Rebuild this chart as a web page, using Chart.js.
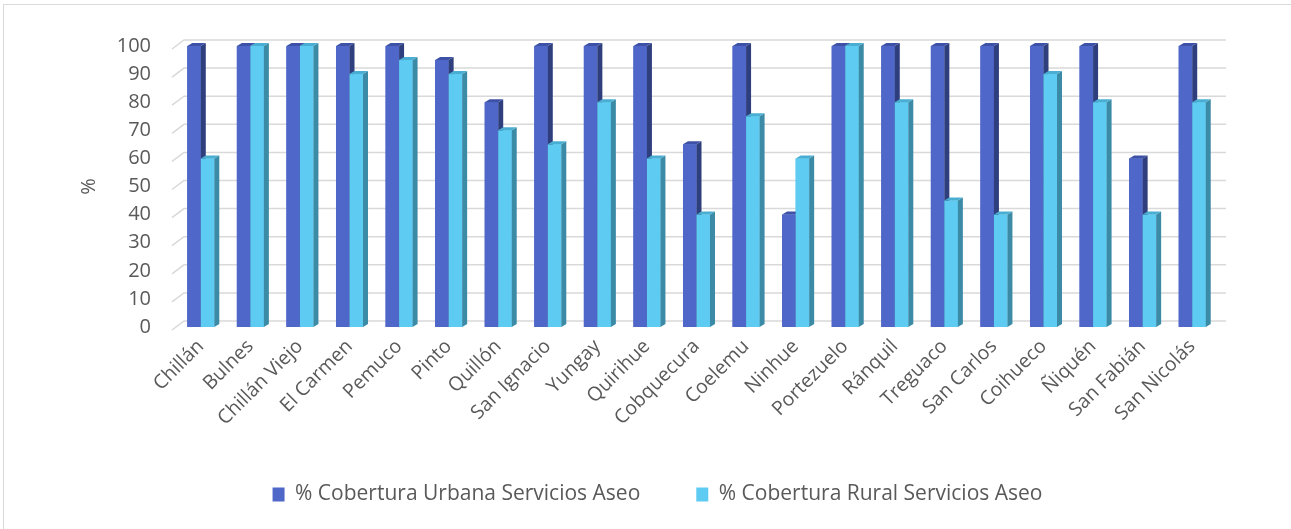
<!DOCTYPE html>
<html>
<head>
<meta charset="utf-8">
<script src="https://cdn.jsdelivr.net/npm/chart.js@4.4.1/dist/chart.umd.min.js"></script>
<style>
    html, body { margin: 0; padding: 0; background: #fff; }
    #wrap { position: relative; width: 1291px; height: 529px; }
    #frame { position: absolute; left: 3px; top: 4px; width: 1300px; height: 540px; border: 1px solid #d9d9d9; box-sizing: border-box; }
    canvas { position: absolute; left: 0; top: 0; }
</style>
</head>
<body>
<div id="wrap">
    <div id="frame"></div>
    <canvas id="coberturaChart" width="1291" height="529"></canvas>
</div>
<script>
const comunas = ['Chillán', 'Bulnes', 'Chillán Viejo', 'El Carmen', 'Pemuco', 'Pinto', 'Quillón', 'San Ignacio', 'Yungay', 'Quirihue', 'Cobquecura', 'Coelemu', 'Ninhue', 'Portezuelo', 'Ránquil', 'Treguaco', 'San Carlos', 'Coihueco', 'Ñiquén', 'San Fabián', 'San Nicolás'];
const coberturaUrbana = [100, 100, 100, 100, 100, 95, 80, 100, 100, 100, 65, 100, 40, 100, 100, 100, 100, 100, 100, 60, 100];
const coberturaRural = [60, 100, 100, 90, 95, 90, 70, 65, 80, 60, 40, 75, 60, 100, 80, 45, 40, 90, 80, 40, 80];
const yTicks = [0, 10, 20, 30, 40, 50, 60, 70, 80, 90, 100];

const FONT = "'Open Sans', sans-serif";
const TEXT_COLOR = '#595959';

// front, side, top colours for the fake 3D look
const shades = [
    { front: '#4e67c8', side: '#2f3f7e', top: '#3d52a6' },
    { front: '#5ecbf2', side: '#3b8aa6', top: '#4aaed2' }
];
const DEPTH_X = 5, DEPTH_Y = 3;     // bar depth
const WALL_X = 8, WALL_Y = 6;       // back wall offset for grid lines
const LEGEND_SHIFT = 49;            // legend is centred on the whole frame, not the plot

const backWall = {
    id: 'backWall',
    beforeDatasetsDraw(chart) {
        const { ctx, chartArea, scales } = chart;
        const y = scales.y;
        ctx.save();
        ctx.strokeStyle = '#d9d9d9';
        ctx.lineWidth = 1.5;
        y.ticks.forEach(t => {
            const py = y.getPixelForValue(t.value);
            ctx.beginPath();
            ctx.moveTo(chartArea.left - 4, py + 3);
            ctx.lineTo(chartArea.left + WALL_X, py - WALL_Y);
            ctx.lineTo(chartArea.right + 9, py - WALL_Y);
            ctx.stroke();
        });
        ctx.restore();
    }
};

const bars3d = {
    id: 'bars3d',
    afterDatasetsDraw(chart) {
        const ctx = chart.ctx;
        const metas = chart.data.datasets.map((d, i) => chart.getDatasetMeta(i));
        ctx.save();
        metas[0].data.forEach((_, idx) => {
            metas.forEach((meta, di) => {
                const bar = meta.data[idx];
                const c = shades[di];
                const l = bar.x - bar.width / 2, r = bar.x + bar.width / 2;
                const top = bar.y, base = bar.base;
                ctx.fillStyle = c.front;
                ctx.fillRect(l, top, r - l, base - top);
                ctx.fillStyle = c.side;
                ctx.beginPath();
                ctx.moveTo(r, top);
                ctx.lineTo(r + DEPTH_X, top - DEPTH_Y);
                ctx.lineTo(r + DEPTH_X, base - DEPTH_Y);
                ctx.lineTo(r, base);
                ctx.closePath();
                ctx.fill();
                ctx.fillStyle = c.top;
                ctx.beginPath();
                ctx.moveTo(l, top);
                ctx.lineTo(l + DEPTH_X, top - DEPTH_Y);
                ctx.lineTo(r + DEPTH_X, top - DEPTH_Y);
                ctx.lineTo(r, top);
                ctx.closePath();
                ctx.fill();
            });
        });
        ctx.restore();
    }
};

const legendShift = {
    id: 'legendShift',
    afterLayout(chart) {
        if (chart.legend) {
            chart.legend.left += LEGEND_SHIFT;
            chart.legend.right += LEGEND_SHIFT;
        }
    }
};

const ctx = document.getElementById('coberturaChart').getContext('2d');
new Chart(ctx, {
    type: 'bar',
    data: {
        labels: comunas,
        datasets: [{
            label: '% Cobertura Urbana Servicios Aseo',
            data: coberturaUrbana,
            backgroundColor: shades[0].front
        }, {
            label: '% Cobertura Rural Servicios Aseo',
            data: coberturaRural,
            backgroundColor: shades[1].front
        }]
    },
    options: {
        responsive: false,
        animation: false,
        categoryPercentage: 0.545,
        barPercentage: 1.0,
        layout: { padding: { top: 46, right: 74, bottom: 14, left: 0 } },
        plugins: {
            legend: {
                position: 'bottom',
                labels: {
                    color: TEXT_COLOR,
                    font: { family: FONT, size: 21 },
                    boxWidth: 12,
                    boxHeight: 14,
                    padding: 56
                }
            },
            tooltip: { enabled: false }
        },
        scales: {
            x: {
                grid: { display: false, drawTicks: false },
                border: { display: false },
                ticks: {
                    color: TEXT_COLOR,
                    font: { family: FONT, size: 19.5 },
                    minRotation: 45,
                    maxRotation: 45,
                    padding: 8
                },
                afterFit(scale) { scale.height = 101; }
            },
            y: {
                min: 0,
                max: 100,
                afterBuildTicks(scale) { scale.ticks = yTicks.map(v => ({ value: v })); },
                grid: { display: false, drawTicks: false },
                border: { display: false },
                ticks: {
                    color: TEXT_COLOR,
                    font: { family: FONT, size: 20 },
                    padding: 25
                },
                title: {
                    display: true,
                    text: '%',
                    color: TEXT_COLOR,
                    font: { family: FONT, size: 20 },
                    padding: { top: 77, bottom: 0 }
                },
                afterFit(scale) { scale.width = 176; }
            }
        }
    },
    plugins: [backWall, bars3d, legendShift]
});
</script>
</body>
</html>
